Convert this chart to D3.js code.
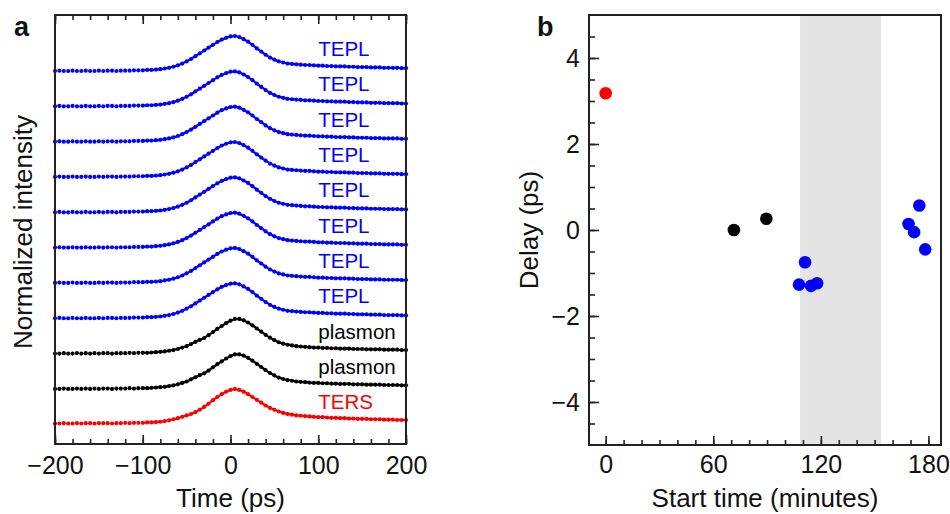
<!DOCTYPE html>
<meta charset="utf-8">
<style>
body { margin: 0; background: #fff; }
svg { font-family: "Liberation Sans", Arial, sans-serif; }
.tick line { stroke: #222; stroke-width: 1.6; }
.tick text { font-size: 25px; fill: #111; }
.frame { fill: none; stroke: #222; stroke-width: 2; }
.fit { fill: none; stroke-width: 2.2; }
.title { font-size: 26px; fill: #111; }
.panel { font-size: 27px; font-weight: bold; fill: #111; }
.tag { font-size: 20.5px; }
</style>
<body></body>
<script src="https://d3js.org/d3.v7.min.js"></script>
<script>

// ---- panel a data: time grid (ps) and normalized profiles ----
var timePs = [-200,-195,-190,-185,-180,-175,-170,-165,-160,-155,-150,-145,-140,-135,-130,-125,-120,-115,-110,-105,
  -100,-95,-90,-85,-80,-75,-70,-65,-60,-55,-50,-45,-40,-35,-30,-25,-20,-15,-10,-5,
  0,5,10,15,20,25,30,35,40,45,50,55,60,65,70,75,80,85,90,95,
  100,105,110,115,120,125,130,135,140,145,150,155,160,165,170,175,180,185,190,195,200];

var teplProfile = [0.00,0.01,0.00,0.00,0.01,0.00,0.00,0.01,0.00,0.00,0.01,0.00,0.01,0.01,0.00,0.01,0.01,0.01,0.02,0.02,
  0.02,0.03,0.03,0.04,0.05,0.07,0.09,0.12,0.16,0.21,0.27,0.34,0.42,0.50,0.58,0.66,0.74,0.82,0.89,0.94,
  0.98,0.99,0.96,0.90,0.83,0.74,0.64,0.55,0.46,0.38,0.32,0.27,0.24,0.21,0.20,0.19,0.18,0.17,0.17,0.16,
  0.15,0.15,0.14,0.14,0.13,0.13,0.13,0.12,0.12,0.11,0.11,0.11,0.10,0.10,0.10,0.09,0.09,0.09,0.09,0.08,0.08];

var plasmonProfile = [0.00,0.00,0.01,0.00,0.00,0.01,0.00,0.01,0.00,0.01,0.00,0.01,0.01,0.00,0.01,0.01,0.01,0.02,0.01,0.02,
  0.02,0.02,0.03,0.04,0.05,0.06,0.08,0.10,0.13,0.17,0.21,0.27,0.33,0.39,0.44,0.52,0.61,0.70,0.78,0.86,
  0.93,0.98,0.98,0.94,0.88,0.80,0.71,0.62,0.53,0.45,0.38,0.32,0.28,0.25,0.23,0.21,0.20,0.19,0.18,0.17,
  0.17,0.16,0.16,0.15,0.15,0.14,0.14,0.14,0.13,0.13,0.13,0.12,0.12,0.12,0.12,0.11,0.11,0.11,0.11,0.10,0.10];

var tersProfile = [0.02,0.02,0.03,0.02,0.02,0.03,0.02,0.03,0.03,0.02,0.03,0.03,0.03,0.02,0.03,0.03,0.04,0.03,0.04,0.04,
  0.04,0.05,0.05,0.06,0.07,0.09,0.11,0.14,0.17,0.21,0.25,0.29,0.34,0.41,0.49,0.58,0.68,0.77,0.85,0.92,
  0.97,1.00,0.97,0.92,0.85,0.77,0.69,0.61,0.53,0.46,0.41,0.36,0.32,0.29,0.27,0.25,0.24,0.23,0.22,0.21,
  0.20,0.20,0.19,0.18,0.18,0.17,0.17,0.16,0.16,0.15,0.15,0.15,0.14,0.14,0.14,0.13,0.13,0.13,0.12,0.12,0.12];

// traces from bottom to top, each shifted up by one unit
var traceNames = ["TERS","plasmon","plasmon","TEPL","TEPL","TEPL","TEPL","TEPL","TEPL","TEPL","TEPL"];
var traceColors = ["#ff0000","#000000","#000000","#0000ff","#0000ff","#0000ff","#0000ff","#0000ff","#0000ff","#0000ff","#0000ff"];
var traceOffsets = [0,1,2,3,4,5,6,7,8,9,10];
var profiles = {TERS: tersProfile, plasmon: plasmonProfile, TEPL: teplProfile};
var fitStart = -100;   // fitted curve only drawn from here
var tagTime = 100;     // where the trace names start

var timeTicks = [-200,-100,0,100,200];

// ---- panel b data ----
var startTime = [0, 71.5, 89.6, 107.8, 111.2, 114.5, 117.9, 168.9, 172.0, 174.9, 178.2];
var delayPs   = [3.18, 0.00, 0.26, -1.27, -0.75, -1.30, -1.24, 0.14, -0.05, 0.57, -0.45];
var pointColors = ["#ff0000","#000000","#000000","#0000ff","#0000ff","#0000ff","#0000ff","#0000ff","#0000ff","#0000ff","#0000ff"];
var shadedRange = [108.4, 153.5];
var startTicks = [0,60,120,180];
var delayTicks = [-4,-2,0,2,4];

var svg = d3.select("body").append("svg")
    .attr("width", 950)
    .attr("height", 514);

// ================= panel a =================
var xA = d3.scaleLinear().domain([-200, 200]).range([55, 406]);
var yA = d3.scaleLinear().domain([-0.56, 11.585]).range([444, 15]);

var gA = svg.append("g");

var line = d3.line()
    .curve(d3.curveBasis)
    .x(function(d) { return xA(d.t); })
    .y(function(d) { return yA(d.v); });

traceNames.forEach(function(name, i) {
  var prof = profiles[name];
  var pts = timePs.map(function(t, j) { return {t: t, v: prof[j] + traceOffsets[i]}; });
  var g = gA.append("g");

  g.append("path")
      .datum(pts.filter(function(d) { return d.t >= fitStart; }))
      .attr("class", "fit")
      .attr("stroke", traceColors[i])
      .attr("d", line);

  g.selectAll("circle")
      .data(pts)
    .enter().append("circle")
      .attr("cx", function(d) { return xA(d.t); })
      .attr("cy", function(d) { return yA(d.v); })
      .attr("r", 2.1)
      .attr("fill", traceColors[i]);

  g.append("text")
      .attr("class", "tag")
      .attr("x", xA(tagTime))
      .attr("y", yA(traceOffsets[i] + 0.42))
      .attr("fill", traceColors[i])
      .text(name);
});

var minorA = d3.range(-200, 201, 20);

gA.append("g")
    .attr("transform", "translate(0,444)")
    .call(d3.axisBottom(xA).tickValues(minorA).tickSize(-5).tickFormat(""))
    .call(function(g) { g.select(".domain").remove(); });
gA.append("g")
    .attr("transform", "translate(0,444)")
    .call(d3.axisBottom(xA).tickValues(timeTicks).tickSize(-9).tickPadding(12))
    .call(function(g) { g.select(".domain").remove(); });
gA.append("g")
    .attr("transform", "translate(0,15)")
    .call(d3.axisTop(xA).tickValues(minorA).tickSize(-5).tickFormat(""))
    .call(function(g) { g.select(".domain").remove(); });
gA.append("g")
    .attr("transform", "translate(0,15)")
    .call(d3.axisTop(xA).tickValues(timeTicks).tickSize(-9).tickFormat(""))
    .call(function(g) { g.select(".domain").remove(); });

gA.append("rect")
    .attr("class", "frame")
    .attr("x", 55).attr("y", 15)
    .attr("width", 351).attr("height", 429);

gA.append("text")
    .attr("class", "title")
    .attr("x", 230.5).attr("y", 507)
    .attr("text-anchor", "middle")
    .text("Time (ps)");

gA.append("text")
    .attr("class", "title")
    .attr("transform", "translate(32,232) rotate(-90)")
    .attr("text-anchor", "middle")
    .text("Normalized intensity");

gA.append("text")
    .attr("class", "panel")
    .attr("x", 14).attr("y", 36)
    .text("a");

// ================= panel b =================
var xB = d3.scaleLinear().domain([-9.3, 187]).range([589, 941]);
var yB = d3.scaleLinear().domain([-5, 5]).range([445, 15]);

var gB = svg.append("g");

gB.append("rect")
    .attr("x", xB(shadedRange[0]))
    .attr("y", 15)
    .attr("width", xB(shadedRange[1]) - xB(shadedRange[0]))
    .attr("height", 430)
    .attr("fill", "#e4e4e4");

gB.append("g")
    .attr("transform", "translate(0,445)")
    .call(d3.axisBottom(xB).tickValues(d3.range(0, 181, 10)).tickSize(-5).tickFormat(""))
    .call(function(g) { g.select(".domain").remove(); });
gB.append("g")
    .attr("transform", "translate(0,445)")
    .call(d3.axisBottom(xB).tickValues(startTicks).tickSize(-9).tickPadding(10))
    .call(function(g) { g.select(".domain").remove(); });
gB.append("g")
    .attr("transform", "translate(589,0)")
    .call(d3.axisLeft(yB).tickValues(d3.range(-4.5, 4.6, 0.5)).tickSize(-6).tickFormat(""))
    .call(function(g) { g.select(".domain").remove(); });
gB.append("g")
    .attr("transform", "translate(589,0)")
    .call(d3.axisLeft(yB).tickValues(delayTicks).tickSize(-10).tickPadding(9))
    .call(function(g) { g.select(".domain").remove(); });

gB.selectAll(".pt")
    .data(startTime)
  .enter().append("circle")
    .attr("class", "pt")
    .attr("cx", function(d) { return xB(d); })
    .attr("cy", function(d, i) { return yB(delayPs[i]); })
    .attr("r", 6.3)
    .attr("fill", function(d, i) { return pointColors[i]; });

gB.append("rect")
    .attr("class", "frame")
    .attr("x", 589).attr("y", 15)
    .attr("width", 352).attr("height", 430);

gB.append("text")
    .attr("class", "title")
    .attr("x", 765).attr("y", 507)
    .attr("text-anchor", "middle")
    .text("Start time (minutes)");

gB.append("text")
    .attr("class", "title")
    .attr("transform", "translate(538,230) rotate(-90)")
    .attr("text-anchor", "middle")
    .text("Delay (ps)");

gB.append("text")
    .attr("class", "panel")
    .attr("x", 537).attr("y", 36)
    .text("b");

</script>
